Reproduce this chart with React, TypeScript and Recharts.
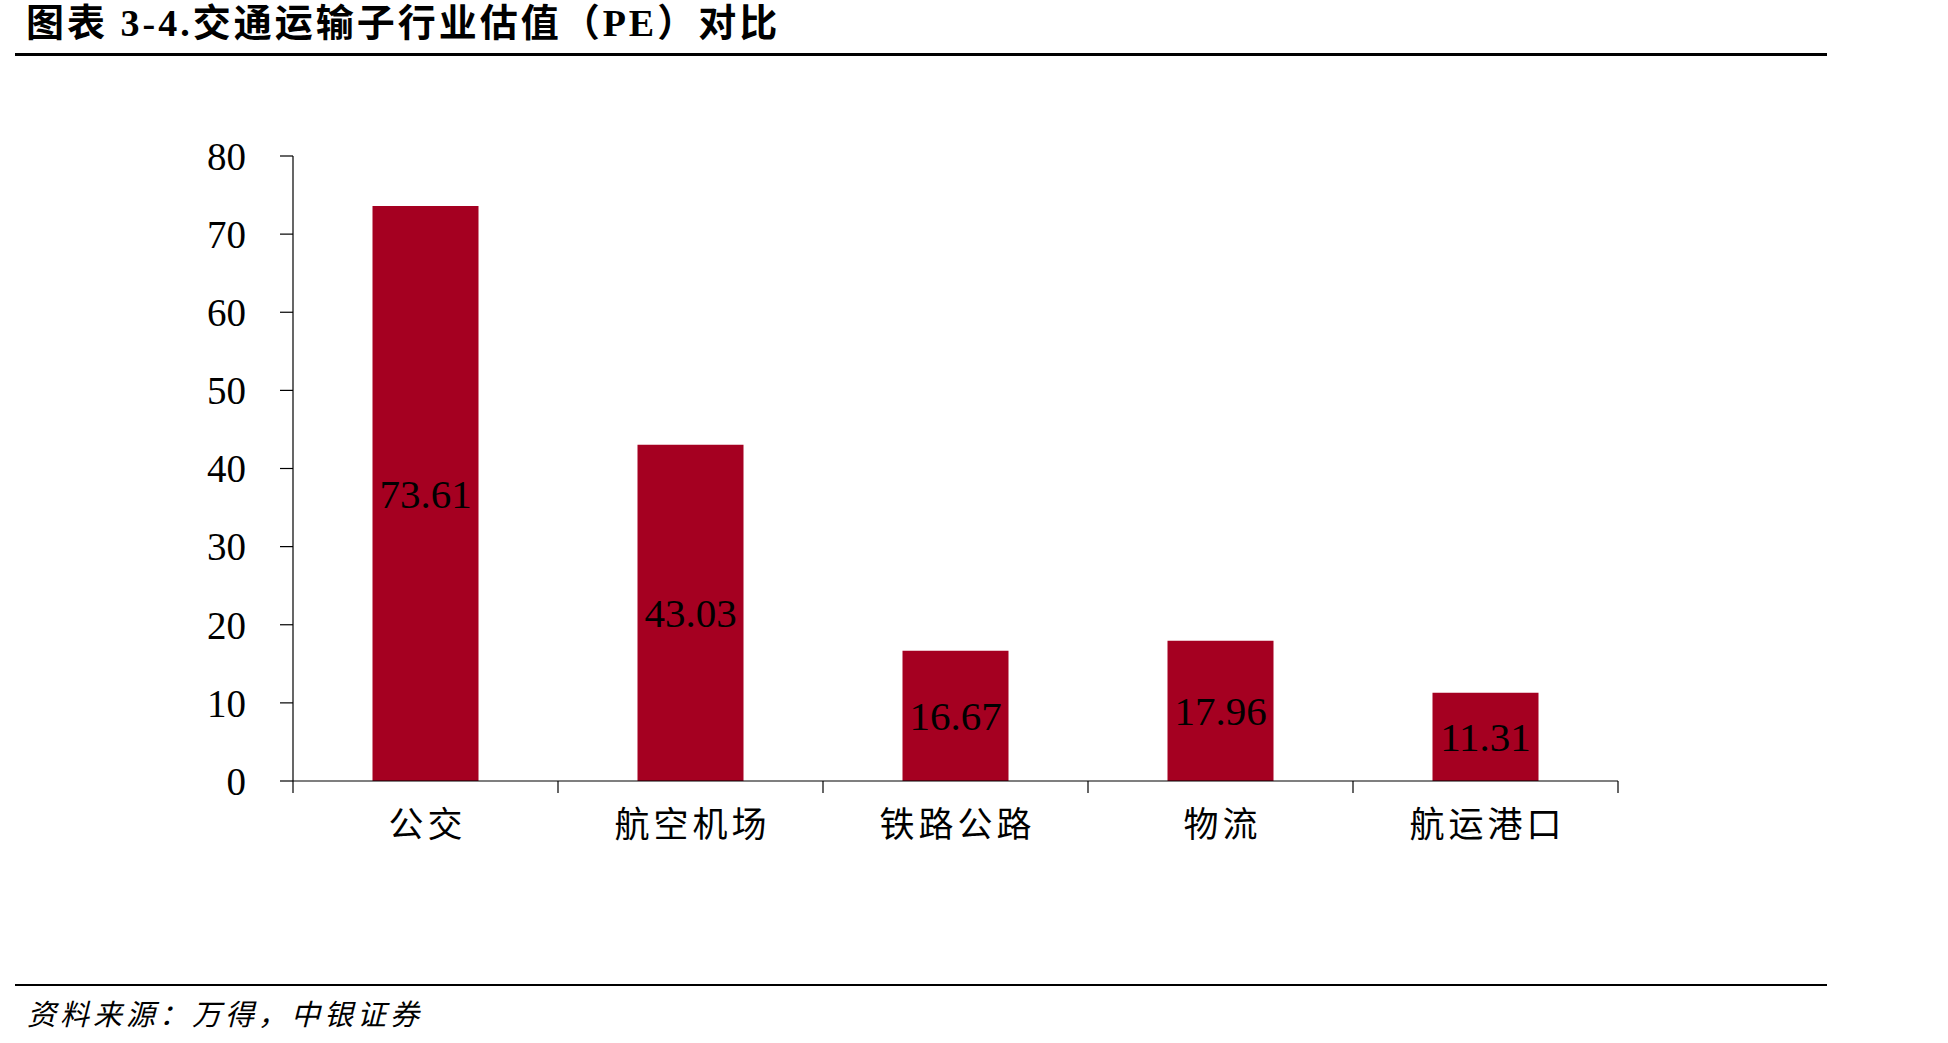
import React from 'react';
import { BarChart, Bar, XAxis, YAxis, LabelList } from 'recharts';

const categories = ['公交', '航空机场', '铁路公路', '物流', '航运港口'];
const peValues = [73.61, 43.03, 16.67, 17.96, 11.31];
const yTicks = [0, 10, 20, 30, 40, 50, 60, 70, 80];

const data = categories.map((name, i) => ({ name, pe: peValues[i] }));

const SERIF = "'Liberation Serif', 'Times New Roman', 'Noto Sans CJK SC', serif";
const CJK = "'Noto Sans CJK SC', 'Liberation Serif', sans-serif";
const X_TICK = 12;

const CategoryTick = (props: any) => {
  const { x, y, payload, index, visibleTicksCount } = props;
  const half = payload && payload.offset ? payload.offset : 132.5;
  const isLast = index === (visibleTicksCount ?? categories.length) - 1;
  return (
    <g>
      <line x1={x - half} x2={x - half} y1={y - X_TICK} y2={y} stroke="#000" strokeWidth={1.2} />
      {isLast && (
        <line x1={x + half} x2={x + half} y1={y - X_TICK} y2={y} stroke="#000" strokeWidth={1.2} />
      )}
      <text
        x={x + 2}
        y={y + 28}
        textAnchor="middle"
        dominantBaseline="central"
        fontFamily={CJK}
        fontSize={35}
        letterSpacing={4}
        fill="#000"
      >
        {payload.value}
      </text>
    </g>
  );
};

export default function App() {
  return (
    <div style={{ position: 'absolute', left: 0, top: 0, width: 1948, height: 1043, background: '#fff' }}>
      <div
        style={{
          position: 'absolute',
          left: 26,
          top: 3,
          fontFamily: SERIF,
          fontWeight: 'bold',
          fontSize: 38,
          lineHeight: '40px',
          letterSpacing: 3,
          color: '#000',
          whiteSpace: 'nowrap',
        }}
      >
        图表 3-4.交通运输子行业估值（PE）对比
      </div>
      <div style={{ position: 'absolute', left: 15, top: 53, width: 1812, height: 2.5, background: '#000' }} />
      <div style={{ position: 'absolute', left: 0, top: 0 }}>
        <BarChart
          width={1948}
          height={1043}
          data={data}
          margin={{ top: 156, right: 330, bottom: 202, left: 193 }}
          barCategoryGap="30%"
        >
          <XAxis
            dataKey="name"
            height={60}
            axisLine={{ stroke: '#000', strokeWidth: 1.2 }}
            tickLine={false}
            tickSize={X_TICK}
            tickMargin={0}
            interval={0}
            tick={<CategoryTick />}
          />
          <YAxis
            width={100}
            domain={[0, 80]}
            ticks={yTicks}
            interval={0}
            axisLine={{ stroke: '#000', strokeWidth: 1.2 }}
            tickLine={{ stroke: '#000', strokeWidth: 1.2 }}
            tickSize={13}
            tickMargin={34}
            tick={{ fill: '#000', fontFamily: SERIF, fontSize: 39 }}
          />
          <Bar dataKey="pe" fill="#A50021" isAnimationActive={false}>
            <LabelList
              dataKey="pe"
              position="center"
              fill="#000"
              fontFamily={SERIF}
              fontSize={41}
              formatter={(v: any) => Number(v).toFixed(2)}
            />
          </Bar>
        </BarChart>
      </div>
      <div style={{ position: 'absolute', left: 15, top: 984, width: 1812, height: 2, background: '#000' }} />
      <div
        style={{
          position: 'absolute',
          left: 27,
          top: 996,
          fontFamily: CJK,
          fontStyle: 'italic',
          fontSize: 29,
          lineHeight: '32px',
          letterSpacing: 4,
          color: '#000',
          whiteSpace: 'nowrap',
        }}
      >
        资料来源：万得，中银证券
      </div>
    </div>
  );
}
